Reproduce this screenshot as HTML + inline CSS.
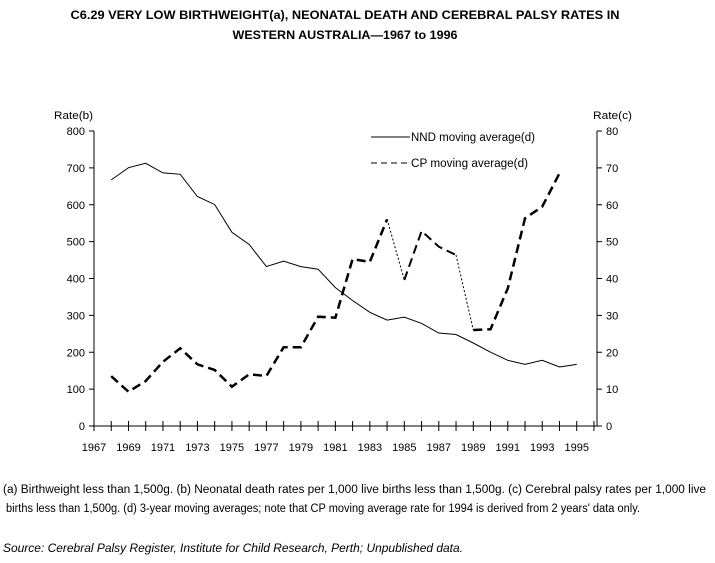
<!DOCTYPE html>
<html><head><meta charset="utf-8"><style>body{margin:0;background:#fff}svg{display:block}text{font-family:"Liberation Sans",Arial,sans-serif;fill:#000}</style></head>
<body>
<svg width="715" height="563" viewBox="0 0 715 563" xmlns="http://www.w3.org/2000/svg">
<text x="345" y="19" text-anchor="middle" font-size="12" font-weight="bold" textLength="549" lengthAdjust="spacingAndGlyphs">C6.29 VERY LOW BIRTHWEIGHT(a), NEONATAL DEATH AND CEREBRAL PALSY RATES IN</text>
<text x="345" y="39" text-anchor="middle" font-size="12" font-weight="bold" textLength="225" lengthAdjust="spacingAndGlyphs">WESTERN AUSTRALIA—1967 to 1996</text>

<text x="54" y="119" font-size="11" textLength="39" lengthAdjust="spacingAndGlyphs">Rate(b)</text>
<text x="593" y="119" font-size="11" textLength="39" lengthAdjust="spacingAndGlyphs">Rate(c)</text>

<g stroke="#000" stroke-width="1" fill="none">
<line x1="94" y1="131" x2="94" y2="426"/>
<line x1="597" y1="131" x2="597" y2="426"/>
<line x1="94" y1="426" x2="597" y2="426"/>
</g>
<g stroke="#000" stroke-width="1" id="ticks"></g>
<g font-size="11" id="lab"></g>

<polyline fill="none" stroke="#000" stroke-width="1" points="111.2,179.9 128.5,167.7 145.7,163.3 163,172.9 180.2,174.3 197.4,196.5 214.7,204.6 231.9,232.3 249.2,244.5 266.4,266.6 283.6,261.1 300.9,266.6 318.1,269.2 335.4,287.6 352.6,300.5 369.8,312.3 387.1,320.1 404.3,317.1 421.6,323.4 438.8,333 456,334.5 473.3,343 490.5,352.2 507.8,360.3 525,364.4 542.2,360.3 559.5,367 576.7,364.4"/>

<g fill="none" stroke="#000">
<polyline stroke-width="2.5" stroke-dasharray="9,5" points="111.2,376.2 128.5,391.7 145.7,381 163,361.7 180.2,348.3 197.4,364.3 214.7,370 231.9,386.7 249.2,374.3 266.4,376 283.6,347.3 300.9,347.3 318.1,316.7 335.4,317.7 352.6,259 369.8,262 387.1,219.3"/>
<polyline stroke-width="1" stroke-dasharray="2,2" points="387.1,219.3 404.3,280"/>
<polyline stroke-width="2" stroke-dasharray="9,5" points="404.3,280 421.6,231 438.8,246.7 456,255"/>
<polyline stroke-width="1" stroke-dasharray="2,2" points="456,255 473.3,330"/>
<polyline stroke-width="2.5" stroke-dasharray="9,5" points="473.3,330 490.5,329.3 507.8,288.3 525,218.3 542.2,206.7 559.5,173.3"/>
</g>

<line x1="371" y1="137" x2="410" y2="137" stroke="#000" stroke-width="1"/>
<text x="411" y="141" font-size="11.5" textLength="124" lengthAdjust="spacingAndGlyphs">NND moving average(d)</text>
<line x1="371" y1="163" x2="410" y2="163" stroke="#000" stroke-width="1" stroke-dasharray="6,4"/>
<text x="411" y="167" font-size="11.5" textLength="117" lengthAdjust="spacingAndGlyphs">CP moving average(d)</text>

<text x="3" y="493" font-size="11.5" textLength="703" lengthAdjust="spacingAndGlyphs">(a) Birthweight less than 1,500g. (b) Neonatal death rates per 1,000 live births less than 1,500g. (c) Cerebral palsy rates per 1,000 live</text>
<text x="6" y="512" font-size="11.5" textLength="634" lengthAdjust="spacingAndGlyphs">births less than 1,500g. (d) 3-year moving averages; note that CP moving average rate for 1994 is derived from 2 years' data only.</text>
<text x="3" y="552" font-size="11.5" font-style="italic" textLength="460" lengthAdjust="spacingAndGlyphs">Source: Cerebral Palsy Register, Institute for Child Research, Perth; Unpublished data.</text>

<script>
var ns="http://www.w3.org/2000/svg",t=document.getElementById("ticks"),l=document.getElementById("lab");
function ln(a,b,c,d){var e=document.createElementNS(ns,"line");e.setAttribute("x1",a);e.setAttribute("y1",b);e.setAttribute("x2",c);e.setAttribute("y2",d);t.appendChild(e);}
function tx(x,y,s,anc){var e=document.createElementNS(ns,"text");e.setAttribute("x",x);e.setAttribute("y",y);e.setAttribute("text-anchor",anc);e.textContent=s;l.appendChild(e);}
for(var k=0;k<=8;k++){var y=426-k*36.875;ln(89,y,94,y);ln(597,y,602,y);tx(85,y+4,String(k*100),"end");tx(606,y+4,String(k*10),"start");}
for(var i=0;i<=29;i++){var x=94+i*17.24;ln(x,421,x,431);if(i%2==0)tx(x,451,String(1967+i),"middle");}
</script>
</svg>
</body></html>
